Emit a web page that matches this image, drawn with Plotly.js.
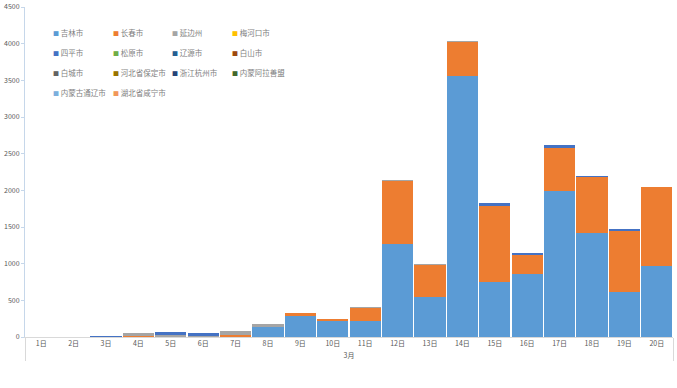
<!DOCTYPE html>
<html><head><meta charset="utf-8">
<script src="https://cdn.plot.ly/plotly-3.0.1.min.js"></script>
<style>html,body{margin:0;padding:0;background:#fff}#c{width:677px;height:388px}</style>
</head><body><div id="c"></div>
<script>
const month = '3月';
const days = ['1日','2日','3日','4日','5日','6日','7日','8日','9日','10日','11日','12日','13日','14日','15日','16日','17日','18日','19日','20日'];
const seriesNames = ['吉林市','长春市','延边州','梅河口市','四平市','松原市','辽源市','白山市','白城市','河北省保定市','浙江杭州市','内蒙阿拉善盟','内蒙古通辽市','湖北省咸宁市'];
const seriesColors = ['#5B9BD5','#ED7D31','#A5A5A5','#FFC000','#4472C4','#70AD47','#255E91','#9E480E','#636363','#997300','#264478','#43682B','#7CAFDD','#F1975A'];
const jilin     = [0,0,0,0,0,0,0,130,280,220,225,1270,550,3560,745,855,1985,1425,615,965];
const changchun = [0,0,0,8,0,0,25,0,50,25,175,860,430,465,1045,265,595,755,835,1075];
const yanbian   = [0,0,0,45,30,12,53,47,0,0,5,15,15,15,0,0,0,0,0,10];
const meihekou  = [0,0,0,0,0,0,0,0,0,0,0,0,0,0,0,0,0,0,0,0];
const siping    = [0,0,18,0,38,38,0,0,0,0,0,0,0,0,40,25,40,20,25,0];
const songyuan  = [0,0,0,0,0,0,0,0,0,0,0,0,0,0,0,0,0,0,0,0];
const liaoyuan  = [0,0,0,0,0,0,0,0,0,0,0,0,0,0,0,0,0,0,0,0];
const baishan   = [0,0,0,0,0,0,0,0,0,0,0,0,0,0,0,0,0,0,0,0];
const baicheng  = [0,0,0,0,0,0,0,0,0,0,0,0,0,0,0,0,0,0,0,0];
const baoding   = [0,0,0,0,0,0,0,0,0,0,0,0,0,0,0,0,0,0,0,0];
const hangzhou  = [0,0,0,0,0,0,0,0,0,0,0,0,0,0,0,0,0,0,0,0];
const alashan   = [0,0,0,0,0,0,0,0,0,0,0,0,0,0,0,0,0,0,0,0];
const tongliao  = [0,0,0,0,0,0,0,0,0,0,0,0,0,0,0,0,0,0,0,0];
const xianning  = [0,0,0,0,0,0,0,0,0,0,0,0,0,0,0,0,0,0,0,0];
const seriesValues = [jilin,changchun,yanbian,meihekou,siping,songyuan,liaoyuan,baishan,baicheng,baoding,hangzhou,alashan,tongliao,xianning];
const yTicks = [0,500,1000,1500,2000,2500,3000,3500,4000,4500];

const xCats = [days.map(()=>month), days];
const traces = seriesNames.map((n,i)=>({
  type:'bar', name:n, x:xCats, y:seriesValues[i],
  marker:{color:seriesColors[i], line:{width:0}}, showlegend:false, hoverinfo:'x+y+name'
}));

// legend drawn as text annotations (4 columns)
const W = 677, H = 388, ml = 25, mr = 4, mt = 7, mb = 51;
const pw = W-ml-mr, ph = H-mt-mb;
const colX = [51, 111, 170, 230];
const rowY = [32, 52, 72, 92];
const annotations = seriesNames.map((n,i)=>({
  xref:'paper', yref:'paper', xanchor:'left', yanchor:'middle', showarrow:false,
  x:(colX[i%4]-ml)/pw, y:(H-mb-rowY[Math.floor(i/4)])/ph,
  text:'<span style="color:'+seriesColors[i]+';font-size:6px">■</span> '+n,
  font:{size:7.5, color:'#7f7f7f', family:'"Noto Sans CJK SC", "DejaVu Sans", sans-serif'}
}));

const layout = {
  width:W, height:H, margin:{l:ml, r:mr, t:mt, b:mb},
  paper_bgcolor:'#fff', plot_bgcolor:'#fff',
  barmode:'stack', bargap:0.04,
  font:{family:'"Noto Sans CJK SC", "DejaVu Sans", sans-serif', size:7, color:'#595959'},
  xaxis:{type:'multicategory', showline:true, linecolor:'#d9d9d9', linewidth:1,
    showdividers:true, dividercolor:'#d9d9d9', dividerwidth:1,
    tickfont:{size:7, color:'#595959'}, ticks:'', showgrid:false},
  yaxis:{range:[0,4500], tickvals:yTicks, ticktext:yTicks.map(String), showline:true,
    linecolor:'#c6d7ea', linewidth:1, ticks:'outside', ticklen:3, tickcolor:'#c6d7ea',
    showgrid:false, zeroline:false, tickfont:{size:7, color:'#595959'}},
  annotations: annotations,
  showlegend:false
};
Plotly.newPlot('c', traces, layout, {displayModeBar:false, staticPlot:true});
</script></body></html>
